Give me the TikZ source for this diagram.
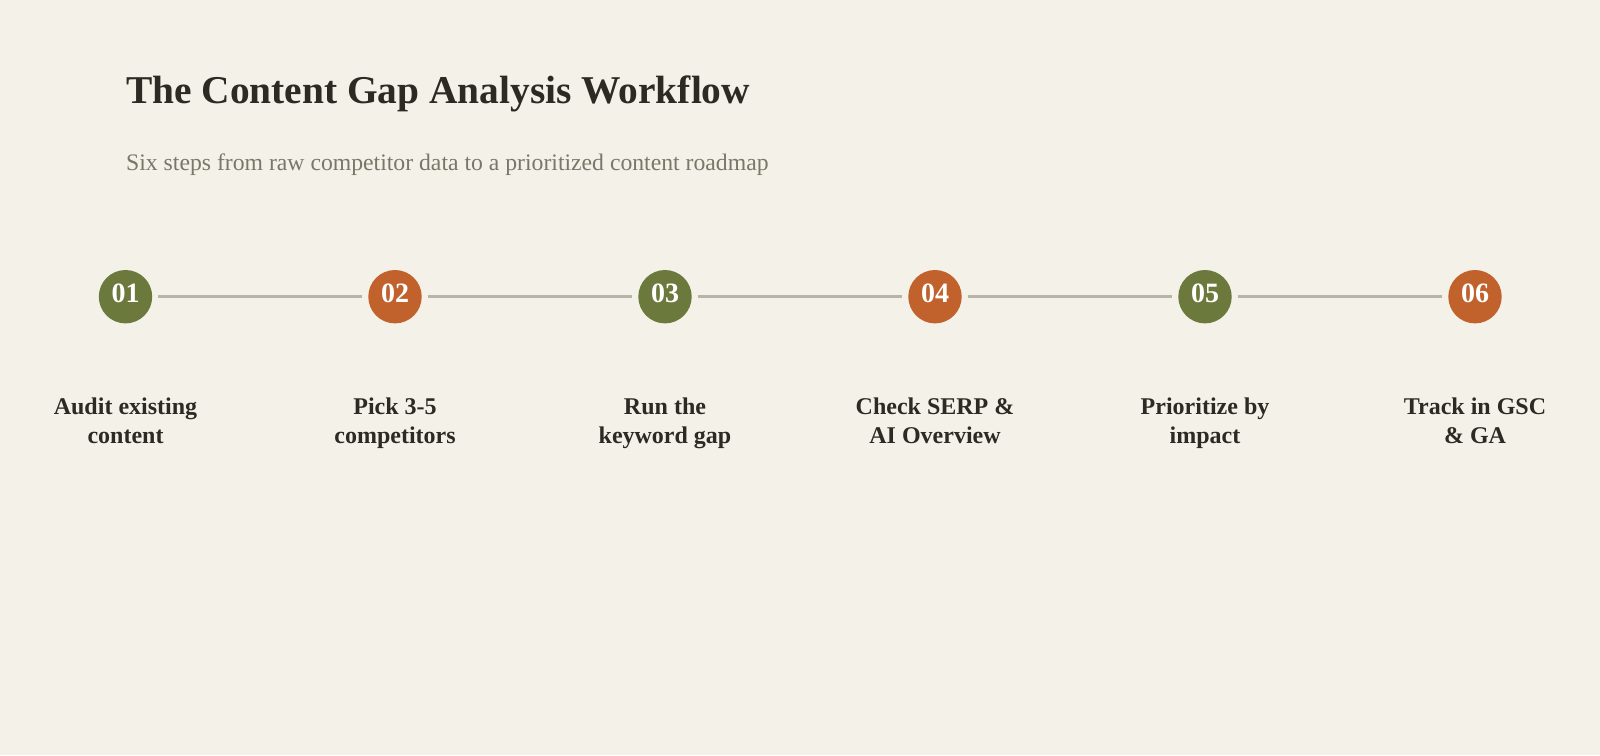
\documentclass[tikz,border=0pt]{standalone}
\usepackage{fontspec}
\setmainfont{Liberation Serif}
\usepackage{tikz}
\definecolor{paper}{HTML}{F4F1E9}
\definecolor{ink}{HTML}{2D2A24}
\definecolor{muted}{HTML}{7A7668}
\definecolor{olive}{HTML}{6B7A3C}
\definecolor{rust}{HTML}{C1622D}
\definecolor{rail}{HTML}{B8B5A8}
\tikzset{
  stepdot/.style={circle, minimum size=53.4pt, inner sep=0pt, outer sep=6pt,
    text=white, text depth=7pt, font=\fontsize{28}{28}\selectfont\bfseries},
  steptext/.style={anchor=north, align=center, inner sep=0pt, text=ink,
    font=\fontsize{24}{29}\selectfont\bfseries},
  link/.style={rail, line width=3pt}
}
\newcommand{\stepno}[1]{#1}

\begin{document}
\begin{tikzpicture}[x=1pt, y=-1pt]
\fill[paper] (0,0) rectangle (1600,755);
\useasboundingbox (0,0) rectangle (1600,755);

\node[anchor=base west, inner sep=0pt, text=ink, font=\fontsize{39.4}{40}\selectfont\bfseries] (title) at (126,103) {The Content Gap Analysis Workflow};
\node[anchor=base west, inner sep=0pt, text=muted, font=\fontsize{23.7}{24}\selectfont] (sub) at (126,170) {Six steps from raw competitor data to a prioritized content roadmap};

\node[stepdot, fill=olive] (s1) at (125.5,296.7) {\stepno{01}};
\node[stepdot, fill=rust]  (s2) at (395,296.7)   {\stepno{02}};
\node[stepdot, fill=olive] (s3) at (665,296.7)   {\stepno{03}};
\node[stepdot, fill=rust]  (s4) at (935,296.7)   {\stepno{04}};
\node[stepdot, fill=olive] (s5) at (1205,296.7)  {\stepno{05}};
\node[stepdot, fill=rust]  (s6) at (1475,296.7)  {\stepno{06}};

\node[steptext] (audit) at (125.5,397.5) {Audit existing\\content};
\node[steptext] (pick)  at (395,397.5)   {Pick 3-5\\competitors};
\node[steptext] (run)   at (665,397.5)   {Run the\\keyword gap};
\node[steptext] (check) at (935,397.5)   {Check SERP \&\\AI Overview};
\node[steptext] (prio)  at (1205,397.5)  {Prioritize by\\impact};
\node[steptext] (track) at (1475,397.5)  {Track in GSC\\\& GA};

\draw[link] (s1) to (s2);
\draw[link] (s2) to (s3);
\draw[link] (s3) to (s4);
\draw[link] (s4) to (s5);
\draw[link] (s5) to (s6);
\end{tikzpicture}
\end{document}
